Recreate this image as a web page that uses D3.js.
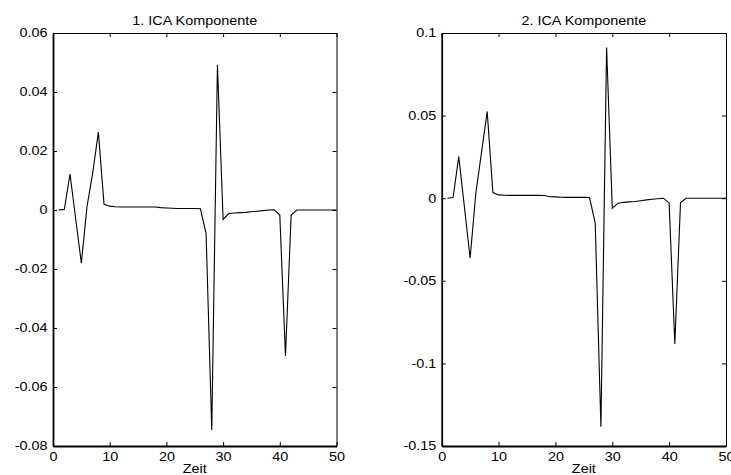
<!DOCTYPE html>
<html>
<head>
<meta charset="utf-8">
<script src="https://cdn.jsdelivr.net/npm/d3@7"></script>
<style>
  html, body { margin: 0; padding: 0; background: #fff; }
  svg { display: block; }
  text { font-family: "Liberation Sans", Arial, Helvetica, sans-serif; fill: #000; }
</style>
</head>
<body>
<svg id="chart" width="731" height="475"></svg>
<script>
// Time index 1..50
const zeit = d3.range(1, 51);

// First ICA component
const komponente1 = [
  0, 0.0002, 0.0122, -0.0030, -0.0180, 0.0012, 0.0125, 0.0264, 0.0019, 0.0013,
  0.0011, 0.0010, 0.0010, 0.0010, 0.0010, 0.0010, 0.0010, 0.0010, 0.0008, 0.0007,
  0.0006, 0.0005, 0.0005, 0.0005, 0.0005, 0.0004, -0.0080, -0.0746, 0.0492, -0.0032,
  -0.0012, -0.0010, -0.0009, -0.0008, -0.0006, -0.0004, -0.0002, 0.0000, 0.0001, -0.0017,
  -0.0495, -0.0017, 0, 0, 0, 0, 0, 0, 0, 0
];

// Second ICA component
const komponente2 = [
  0, 0.0004, 0.0252, -0.0055, -0.0363, 0.0030, 0.0277, 0.0524, 0.0034, 0.0020,
  0.0018, 0.0017, 0.0017, 0.0017, 0.0017, 0.0017, 0.0017, 0.0016, 0.0009, 0.0008,
  0.0006, 0.0005, 0.0005, 0.0005, 0.0005, 0.0004, -0.0151, -0.1383, 0.0912, -0.0061,
  -0.0030, -0.0025, -0.0022, -0.0020, -0.0015, -0.0010, -0.0006, -0.0003, 0, -0.0030,
  -0.0882, -0.0026, 0, 0, 0, 0, 0, 0, 0, 0
];

const xTicks = [0, 10, 20, 30, 40, 50];
const yTicks1 = [-0.08, -0.06, -0.04, -0.02, 0, 0.02, 0.04, 0.06];
const yTicks2 = [-0.15, -0.1, -0.05, 0, 0.05, 0.1];
const titles = ["1. ICA Komponente", "2. ICA Komponente"];
const xLabel = "Zeit";

const svg = d3.select("#chart");
const FS = 12;      // font size
const SX = 1.2;     // horizontal text stretch

function fmt(v) {
  if (Math.abs(v) < 1e-12) return "0";
  return String(+v.toFixed(4));
}

function panel(opts) {
  const { left, right, top, bottom, values, yDomain, yTicks, title } = opts;
  const x = d3.scaleLinear().domain([0, 50]).range([left, right]);
  const y = d3.scaleLinear().domain(yDomain).range([bottom, top]);
  const g = svg.append("g");

  // top and right frame (thin, ticks inward, no labels)
  g.append("g").attr("transform", `translate(0,${top})`)
    .call(d3.axisTop(x).tickValues(xTicks).tickSize(-4).tickSizeOuter(0).tickFormat(""))
    .call(a => a.select(".domain").attr("stroke-width", 1));
  g.append("g").attr("transform", `translate(${right},0)`)
    .call(d3.axisRight(y).tickValues(yTicks).tickSize(-4).tickSizeOuter(0).tickFormat(""))
    .call(a => a.select(".domain").attr("stroke-width", 1));

  // bottom axis
  const ax = g.append("g").attr("transform", `translate(0,${bottom})`)
    .call(d3.axisBottom(x).tickValues(xTicks).tickSize(-4).tickSizeOuter(0).tickPadding(0).tickFormat(d3.format("d")));
  ax.select(".domain").attr("stroke-width", 1.8);
  ax.selectAll("text")
    .attr("font-size", FS).attr("font-family", null)
    .attr("dy", null).attr("y", null)
    .attr("transform", `translate(0,15) scale(${SX},1)`);

  // left axis
  const ay = g.append("g").attr("transform", `translate(${left},0)`)
    .call(d3.axisLeft(y).tickValues(yTicks).tickSize(-4).tickSizeOuter(0).tickPadding(0).tickFormat(fmt));
  ay.select(".domain").attr("stroke-width", 1.8);
  ay.selectAll("text")
    .attr("font-size", FS).attr("font-family", null)
    .attr("x", null)
    .attr("transform", `translate(-5.5,0) scale(${SX},1)`);

  // data line
  const line = d3.line().x((d, i) => x(zeit[i])).y(d => y(d));
  g.append("path").datum(values)
    .attr("fill", "none").attr("stroke", "#000").attr("stroke-width", 1.1)
    .attr("stroke-linejoin", "miter").attr("d", line);

  const cx = (left + right) / 2;
  g.append("text").attr("text-anchor", "middle").attr("font-size", FS)
    .attr("transform", `translate(${cx},25) scale(${SX},1)`).text(title);
  g.append("text").attr("text-anchor", "middle").attr("font-size", FS)
    .attr("transform", `translate(${cx},473) scale(${SX},1)`).text(xLabel);
}

panel({ left: 53, right: 336.5, top: 33, bottom: 446, values: komponente1,
        yDomain: [-0.08, 0.06], yTicks: yTicks1, title: titles[0] });
panel({ left: 441.7, right: 726, top: 33, bottom: 446, values: komponente2,
        yDomain: [-0.15, 0.1], yTicks: yTicks2, title: titles[1] });
</script>
</body>
</html>
